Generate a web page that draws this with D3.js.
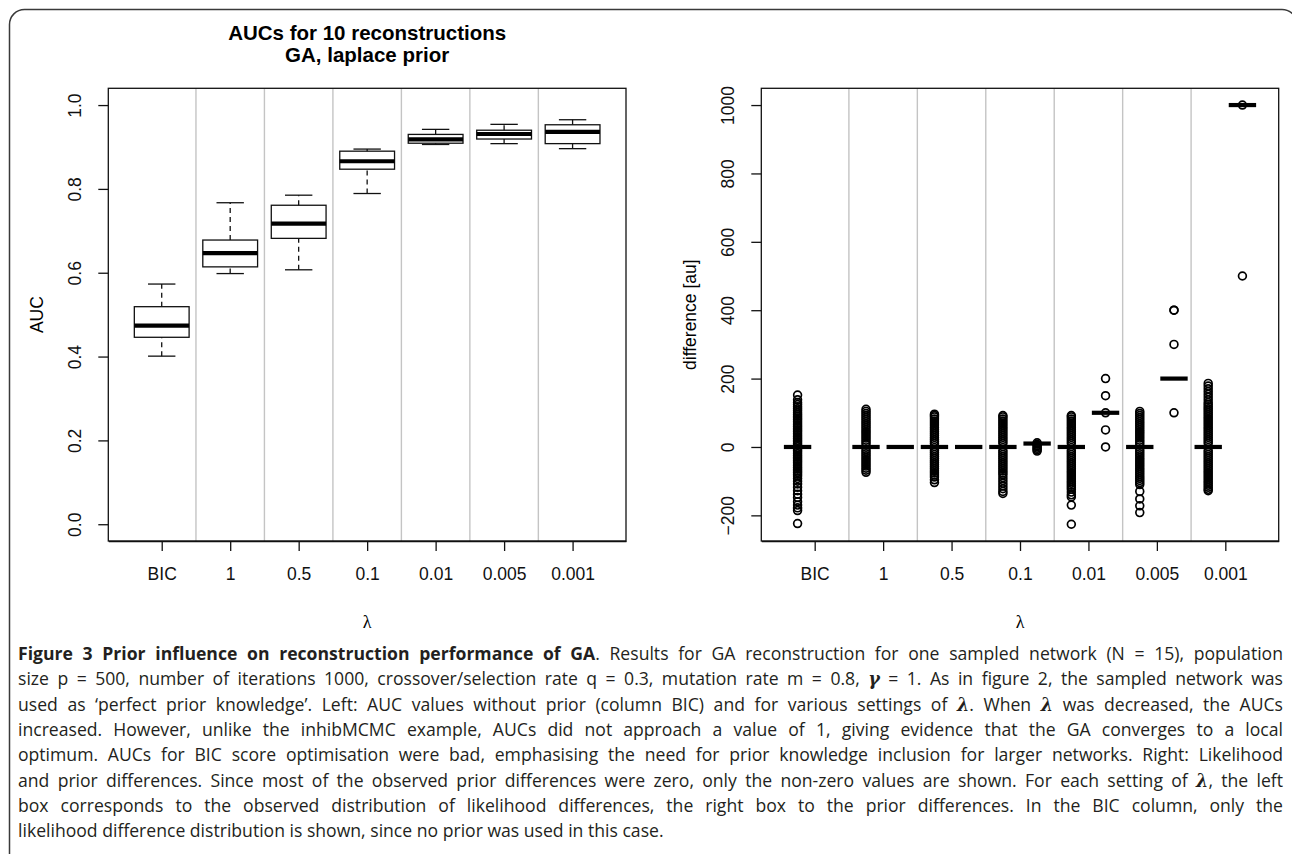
<!DOCTYPE html>
<html>
<head>
<meta charset="utf-8">
<script src="https://cdnjs.cloudflare.com/ajax/libs/d3/7.8.5/d3.min.js"></script>
<style>
body { margin: 0; background: #fff; }
svg { display: block; }
</style>
</head>
<body>
<script>
let lambdas = ["BIC", "1", "0.5", "0.1", "0.01", "0.005", "0.001"];

// left panel, one row per lambda: [lower whisker, q1, median, q3, upper whisker]
let aucStats = [
    [0.401, 0.446, 0.474, 0.519, 0.573],
    [0.598, 0.614, 0.647, 0.678, 0.767],
    [0.607, 0.682, 0.717, 0.761, 0.785],
    [0.789, 0.847, 0.866, 0.890, 0.895],
    [0.906, 0.909, 0.918, 0.930, 0.942],
    [0.908, 0.919, 0.931, 0.940, 0.954],
    [0.896, 0.908, 0.936, 0.953, 0.965]
];
let aucTicks = [0, 0.2, 0.4, 0.6, 0.8, 1.0];

// right panel: likelihood differences (left box of each lambda)
let likStats = [
    [0, 0, 0, 0, 0], [0, 0, 0, 0, 0], [0, 0, 0, 0, 0], [0, 0, 0, 0, 0],
    [0, 0, 0, 0, 0], [0, 0, 0, 0, 0], [0, 0, 0, 0, 0]
];
let likOutliers = [
    [152, 138, 130, 124, 118, 112, 106, 100, 95, 90, 85, 80, 75, 70, 65, 60, 55, 50, 45, 40, 35, 30, 25, 20, 15, 10, 5,
     -5, -10, -15, -20, -25, -30, -35, -40, -45, -50, -55, -60, -65, -70, -75, -80, -85, -92, -100, -108, -118, -128,
     -138, -148, -160, -170, -178, -186, -224],
    [110, 104, 98, 92, 86, 80, 74, 68, 62, 56, 50, 44, 38, 32, 26, 20, 14, 8, -8, -14, -20, -26, -32, -38, -44, -50,
     -56, -62, -68, -74],
    [96, 92, 88, 82, 76, 70, 64, 58, 52, 46, 40, 34, 28, 22, 16, 10, -10, -16, -22, -28, -34, -40, -46, -52, -58, -64,
     -70, -76, -82, -88, -96, -104],
    [92, 88, 82, 76, 70, 64, 58, 52, 46, 40, 34, 28, 22, 16, 10, -10, -16, -22, -28, -34, -40, -46, -52, -58, -64, -70,
     -76, -82, -90, -98, -106, -114, -122, -130, -136],
    [92, 88, 82, 76, 70, 64, 58, 52, 46, 40, 34, 28, 22, 16, 10, -10, -16, -22, -28, -34, -40, -46, -52, -58, -64, -70,
     -76, -82, -88, -94, -100, -106, -112, -118, -124, -132, -140, -146, -170, -226],
    [104, 98, 92, 86, 80, 74, 68, 62, 56, 50, 44, 38, 32, 26, 20, 14, 8, -8, -14, -20, -26, -32, -38, -44, -50, -56,
     -62, -68, -74, -80, -86, -92, -98, -104, -110, -130, -152, -172, -192],
    [186, 178, 170, 162, 154, 146, 138, 130, 124, 118, 112, 106, 100, 94, 88, 82, 76, 70, 64, 58, 52, 46, 40, 34, 28,
     22, 16, 10, -10, -16, -22, -28, -34, -40, -46, -52, -58, -64, -70, -76, -82, -88, -94, -100, -106, -112, -118,
     -124, -128]
];

// prior differences (right box of each lambda, none for BIC)
let priorStats = [
    null,
    [0, 0, 0, 0, 0],
    [0, 0, 0, 0, 0],
    [10, 10, 10, 10, 10],
    [100, 100, 100, 100, 100],
    [200, 200, 200, 200, 200],
    [1000, 1000, 1000, 1000, 1000]
];
let priorOutliers = [
    [],
    [],
    [],
    [12, 8, 4, 0, -4, -8, -12],
    [0, 50, 100, 150, 200],
    [100, 300, 400, 400],
    [500, 1000]
];
let diffTicks = [-200, 0, 200, 400, 600, 800, 1000];

let captionLines = [
    [["Figure 3 Prior influence on reconstruction performance of GA", "b"],
     [". Results for GA reconstruction for one sampled network (N = 15), population", ""]],
    [["size p = 500, number of iterations 1000, crossover/selection rate q = 0.3, mutation rate m = 0.8, ", ""],
     ["γ", "m"], [" = 1. As in figure 2, the sampled network was", ""]],
    [["used as ‘perfect prior knowledge’. Left: AUC values without prior (column BIC) and for various settings of ", ""],
     ["λ", "m"], [". When ", ""], ["λ", "m"], [" was decreased, the AUCs", ""]],
    [["increased. However, unlike the inhibMCMC example, AUCs did not approach a value of 1, giving evidence that the GA converges to a local", ""]],
    [["optimum. AUCs for BIC score optimisation were bad, emphasising the need for prior knowledge inclusion for larger networks. Right: Likelihood", ""]],
    [["and prior differences. Since most of the observed prior differences were zero, only the non-zero values are shown. For each setting of ", ""],
     ["λ", "m"], [", the left", ""]],
    [["box corresponds to the observed distribution of likelihood differences, the right box to the prior differences. In the BIC column, only the", ""]],
    [["likelihood difference distribution is shown, since no prior was used in this case.", ""]]
];

let svg,
    svgWidth = 1292,
    svgHeight = 854,
    plotTop = 88.3,
    plotBottom = 541,
    plotFont = "'Liberation Sans', Arial, Helvetica, sans-serif",
    tickFontSize = 17.5;

function init() {
    svg = d3.select("body").append("svg")
        .attr("width", svgWidth)
        .attr("height", svgHeight);

    svg.append("rect")
        .attr("x", 9.5).attr("y", 9.5)
        .attr("width", 1287.5).attr("height", 900)
        .attr("rx", 15)
        .attr("fill", "none")
        .attr("stroke", "#3a3a3a")
        .attr("stroke-width", 1.5);

    drawLeftPanel();
    drawRightPanel();
    drawCaption();
}

function makePanel(left, right, yDomain, yTicks, yFormat, yLabel, yLabelX) {
    let x = d3.scaleLinear().domain([0.22, 7.78]).range([left, right]);
    let y = d3.scaleLinear().domain(yDomain).range([plotBottom, plotTop]);
    let g = svg.append("g");

    // grey separators between the lambda columns
    d3.range(1, 7).forEach(i => {
        g.append("line")
            .attr("x1", x(i + 0.5)).attr("x2", x(i + 0.5))
            .attr("y1", plotTop).attr("y2", plotBottom)
            .attr("stroke", "#c4c4c4")
            .attr("stroke-width", 1.4);
    });

    let xAxis = d3.axisBottom(x)
        .tickValues(d3.range(1, 8))
        .tickFormat((d, i) => lambdas[i])
        .tickSize(10)
        .tickSizeOuter(0);
    let gx = g.append("g")
        .attr("transform", "translate(0," + plotBottom + ")")
        .call(xAxis);
    styleAxis(gx);
    gx.selectAll("text").attr("y", 38.6).attr("dy", null);

    let yAxis = d3.axisLeft(y)
        .tickValues(yTicks)
        .tickFormat(yFormat)
        .tickSize(10)
        .tickSizeOuter(0);
    let gy = g.append("g")
        .attr("transform", "translate(" + left + ",0)")
        .call(yAxis);
    styleAxis(gy);
    gy.select(".domain").remove();
    gy.selectAll("text")
        .attr("x", null).attr("dy", null)
        .attr("text-anchor", "middle")
        .attr("transform", "translate(-27.7,0) rotate(-90)");

    g.append("rect")
        .attr("x", left).attr("y", plotTop)
        .attr("width", right - left).attr("height", plotBottom - plotTop)
        .attr("fill", "none")
        .attr("stroke", "#111")
        .attr("stroke-width", 1.3);

    g.append("text")
        .attr("transform", "translate(" + yLabelX + "," + ((plotTop + plotBottom) / 2) + ") rotate(-90)")
        .attr("text-anchor", "middle")
        .attr("font-family", plotFont)
        .attr("font-size", tickFontSize)
        .text(yLabel);

    g.append("text")
        .attr("x", (left + right) / 2)
        .attr("y", 628)
        .attr("text-anchor", "middle")
        .attr("font-family", "'Liberation Serif', 'DejaVu Serif', serif")
        .attr("font-size", 18)
        .text("λ");

    return {x, y, g};
}

function styleAxis(ga) {
    ga.attr("font-family", plotFont)
        .attr("font-size", tickFontSize)
        .attr("color", "#111");
    ga.selectAll("line").attr("stroke-width", 1.3);
    ga.selectAll("path").attr("stroke-width", 1.3);
}

function drawBox(g, x, y, pos, half, s, outliers) {
    let x0 = x(pos - half), x1 = x(pos + half);
    let sx0 = x(pos - half / 2), sx1 = x(pos + half / 2);
    let cx = x(pos);

    [[s[0], s[1]], [s[3], s[4]]].forEach(w => {
        g.append("line")
            .attr("x1", cx).attr("x2", cx)
            .attr("y1", y(w[0])).attr("y2", y(w[1]))
            .attr("stroke", "#111")
            .attr("stroke-width", 1.3)
            .attr("stroke-dasharray", "5,4");
    });
    [s[0], s[4]].forEach(v => {
        g.append("line")
            .attr("x1", sx0).attr("x2", sx1)
            .attr("y1", y(v)).attr("y2", y(v))
            .attr("stroke", "#111")
            .attr("stroke-width", 1.3);
    });
    g.append("rect")
        .attr("x", x0).attr("y", y(s[3]))
        .attr("width", x1 - x0)
        .attr("height", Math.max(0, y(s[1]) - y(s[3])))
        .attr("fill", "none")
        .attr("stroke", "#111")
        .attr("stroke-width", 1.3);
    g.append("line")
        .attr("x1", x0).attr("x2", x1)
        .attr("y1", y(s[2])).attr("y2", y(s[2]))
        .attr("stroke", "#000")
        .attr("stroke-width", 4.2);

    outliers.forEach(v => {
        g.append("circle")
            .attr("cx", cx).attr("cy", y(v))
            .attr("r", 3.9)
            .attr("fill", "none")
            .attr("stroke", "#000")
            .attr("stroke-width", 1.7);
    });
}

function drawLeftPanel() {
    let p = makePanel(108.3, 626, [-0.04, 1.04], aucTicks, d3.format(".1f"), "AUC", 43);

    aucStats.forEach((s, i) => drawBox(p.g, p.x, p.y, i + 1, 0.4, s, []));

    let title = p.g.append("text")
        .attr("text-anchor", "middle")
        .attr("font-family", plotFont)
        .attr("font-weight", "bold")
        .attr("font-size", 20.5);
    title.append("tspan").attr("x", (108.3 + 626) / 2).attr("y", 40).text("AUCs for 10 reconstructions");
    title.append("tspan").attr("x", (108.3 + 626) / 2).attr("y", 62).text("GA, laplace prior");
}

function drawRightPanel() {
    let p = makePanel(761.3, 1278.7, [-275, 1049], diffTicks, d3.format("d"), "difference [au]", 696);

    likStats.forEach((s, i) => drawBox(p.g, p.x, p.y, i + 1 - 0.25, 0.2, s, likOutliers[i]));
    priorStats.forEach((s, i) => {
        if (s) drawBox(p.g, p.x, p.y, i + 1 + 0.25, 0.2, s, priorOutliers[i]);
    });
}

function drawCaption() {
    let left = 18, right = 1283, top = 660, step = 25.3;
    captionLines.forEach((segs, li) => {
        let t = svg.append("text")
            .attr("x", left)
            .attr("y", top + li * step)
            .attr("font-family", "'Open Sans', 'Noto Sans', sans-serif")
            .attr("font-size", 17.6)
            .attr("fill", "#231f20");
        segs.forEach(sg => {
            let ts = t.append("tspan").text(sg[0]);
            if (sg[1] === "b") ts.attr("font-weight", "bold");
            if (sg[1] === "m") ts.attr("font-weight", "bold").attr("font-style", "italic")
                .attr("font-family", "'DejaVu Serif', serif");
        });
        if (li < captionLines.length - 1) {
            let full = segs.map(sg => sg[0]).join("");
            let spaces = (full.match(/ /g) || []).length;
            let natural = t.node().getComputedTextLength();
            t.attr("word-spacing", (right - left - natural) / spaces);
        }
    });
}

init();
</script>
</body>
</html>
